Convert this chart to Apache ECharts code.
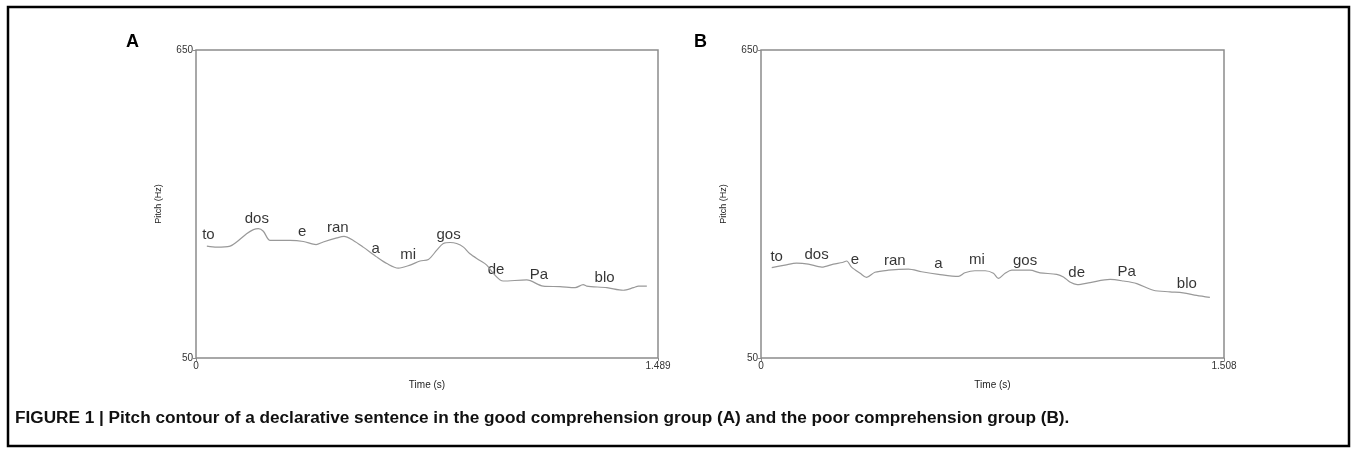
<!DOCTYPE html>
<html>
<head>
<meta charset="utf-8">
<script src="https://cdn.jsdelivr.net/npm/echarts@6/dist/echarts.min.js"></script>
<style>
  html, body { margin: 0; padding: 0; background: #fff; }
  #chart { width: 1357px; height: 453px; }
</style>
</head>
<body>
<div id="chart"></div>
<script>
// pitch contour, group A (good comprehension)
const timeA = [0.035, 0.067, 0.110, 0.131, 0.163, 0.185, 0.201, 0.217, 0.239, 0.303, 0.346, 0.387, 0.410,
    0.454, 0.477, 0.507, 0.539, 0.582, 0.615, 0.652, 0.690, 0.722, 0.749, 0.776, 0.797, 0.819, 0.840,
    0.862, 0.883, 0.915, 0.937, 0.958, 0.990, 1.066, 1.119, 1.173, 1.222, 1.248, 1.259, 1.324, 1.377,
    1.410, 1.426, 1.453];
const pitchA = [268, 266, 268, 276, 292, 300, 302, 297, 279, 279, 277, 271, 276,
    284, 287, 279, 266, 247, 234, 225, 231, 239, 242, 260, 273, 275, 273,
    266, 253, 240, 231, 215, 200, 202, 190, 189, 187, 193, 190, 187, 182,
    187, 190, 190];

// pitch contour, group B (poor comprehension)
const timeB = [0.035, 0.078, 0.116, 0.154, 0.198, 0.236, 0.265, 0.279, 0.295, 0.323, 0.344, 0.371, 0.415,
    0.480, 0.523, 0.578, 0.643, 0.664, 0.697, 0.730, 0.757, 0.773, 0.795, 0.817, 0.876, 0.909, 0.963,
    0.985, 1.006, 1.030, 1.072, 1.137, 1.180, 1.224, 1.278, 1.332, 1.375, 1.419, 1.462];
const pitchB = [226, 231, 235, 233, 227, 233, 236, 239, 227, 215, 207, 217, 221,
    223, 218, 213, 209, 216, 220, 220, 215, 205, 215, 221, 221, 216, 213,
    208, 198, 193, 197, 203, 200, 195, 182, 179, 177, 172, 168];

const syllables = ['to', 'dos', 'e', 'ran', 'a', 'mi', 'gos', 'de', 'Pa', 'blo'];
const sylTimeA = [0.040, 0.196, 0.342, 0.457, 0.579, 0.684, 0.814, 0.967, 1.105, 1.317];
const sylPitchA = [289, 322, 296, 303, 263, 250, 289, 221, 211, 206];
const sylTimeB = [0.051, 0.181, 0.306, 0.436, 0.578, 0.703, 0.860, 1.028, 1.191, 1.387];
const sylPitchB = [248, 250, 242, 240, 233, 242, 239, 215, 218, 195];

const endA = 1.489;
const endB = 1.508;
const pitchTicks = [50, 650];

const chart = echarts.init(document.getElementById('chart'));

const zip = (xs, ys) => xs.map((x, i) => [x, ys[i]]);
const sylData = (ts, ps) => syllables.map((s, i) => ({ name: s, value: [ts[i], ps[i]] }));

const gridStyle = {
    show: true,
    borderColor: '#8c8c8c',
    borderWidth: 1.5,
    backgroundColor: '#fff'
};

const makeX = (gridIndex, end) => ({
    type: 'value',
    gridIndex: gridIndex,
    min: 0,
    max: end,
    name: 'Time (s)',
    nameLocation: 'middle',
    nameGap: 22,
    nameTextStyle: { fontFamily: 'Liberation Sans', fontSize: 10, color: '#222' },
    splitLine: { show: false },
    axisLine: { show: false },
    axisTick: { show: true, customValues: [0, end], length: 3, lineStyle: { color: '#8c8c8c' } },
    axisLabel: {
        customValues: [0, end],
        formatter: v => (v === 0 ? '0' : v.toFixed(3)),
        fontFamily: 'Liberation Sans', fontSize: 10, color: '#333', margin: 3
    }
});

const makeY = gridIndex => ({
    type: 'value',
    gridIndex: gridIndex,
    min: 50,
    max: 650,
    name: 'Pitch (Hz)',
    nameLocation: 'middle',
    nameGap: 33,
    nameTextStyle: { fontFamily: 'Liberation Sans', fontSize: 9, color: '#222' },
    splitLine: { show: false },
    axisLine: { show: false },
    axisTick: { show: true, customValues: pitchTicks, length: 3, lineStyle: { color: '#8c8c8c' } },
    axisLabel: {
        customValues: pitchTicks,
        fontFamily: 'Liberation Sans', fontSize: 10, color: '#333', margin: 3
    }
});

const contour = (idx, data) => ({
    type: 'line',
    xAxisIndex: idx,
    yAxisIndex: idx,
    data: data,
    showSymbol: false,
    smooth: 0.3,
    lineStyle: { color: '#999', width: 1.2 },
    silent: true
});

const sylSeries = (idx, data) => ({
    type: 'scatter',
    xAxisIndex: idx,
    yAxisIndex: idx,
    data: data,
    symbolSize: 0,
    silent: true,
    label: {
        show: true,
        position: 'inside',
        formatter: p => p.name,
        fontFamily: 'Liberation Sans',
        fontSize: 15,
        color: '#000'
    }
});

chart.setOption({
    animation: false,
    title: [
        { text: 'A', left: 121, top: 28, textStyle: { fontFamily: 'Liberation Sans', fontSize: 18, fontWeight: 'bold', color: '#000' } },
        { text: 'B', left: 689, top: 28, textStyle: { fontFamily: 'Liberation Sans', fontSize: 18, fontWeight: 'bold', color: '#000' } },
        {
            text: 'FIGURE 1 | Pitch contour of a declarative sentence in the good comprehension group (A) and the poor comprehension group (B).',
            left: 10, top: 405,
            textStyle: { fontFamily: 'Liberation Sans', fontSize: 17.2, fontWeight: 'bold', color: '#111' }
        }
    ],
    graphic: [{
        type: 'rect',
        shape: { x: 8, y: 7, width: 1341, height: 439 },
        style: { fill: 'none', stroke: '#000', lineWidth: 2.5 },
        silent: true
    }],
    grid: [
        Object.assign({ left: 196, top: 50, width: 462, height: 308 }, gridStyle),
        Object.assign({ left: 761, top: 50, width: 463, height: 308 }, gridStyle)
    ],
    xAxis: [makeX(0, endA), makeX(1, endB)],
    yAxis: [makeY(0), makeY(1)],
    series: [
        contour(0, zip(timeA, pitchA)),
        contour(1, zip(timeB, pitchB)),
        sylSeries(0, sylData(sylTimeA, sylPitchA)),
        sylSeries(1, sylData(sylTimeB, sylPitchB))
    ]
});
</script>
</body>
</html>
